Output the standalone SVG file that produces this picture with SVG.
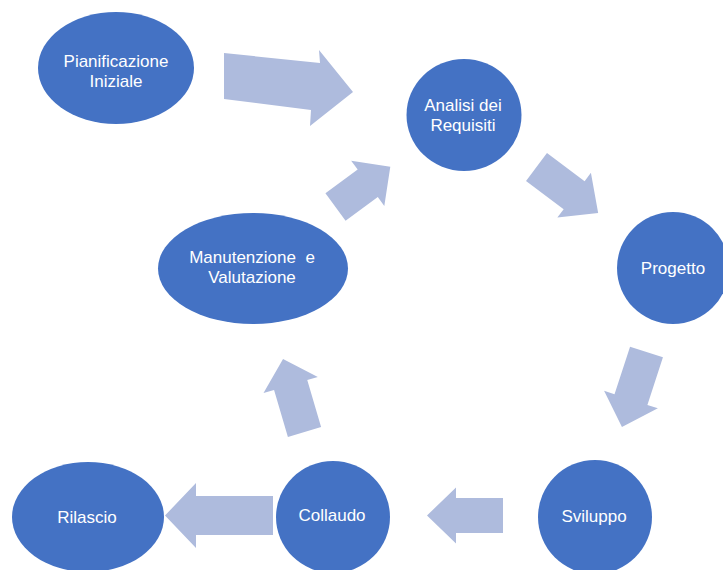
<svg xmlns="http://www.w3.org/2000/svg" width="723" height="570" viewBox="0 0 723 570">
<style>
.node{fill:#4472C4}
.lbl{fill:#ffffff;font-family:"Liberation Sans",Arial,sans-serif;font-size:17px;text-anchor:middle;dominant-baseline:central}
.arr{fill:#AEBBDD}
</style>
<rect width="723" height="570" fill="#ffffff"/>
<g id="connectors">
<polygon class="arr" points="224,53 320,63 319,50 353,92 310,126 311,110 224,99"/>
<polygon class="arr" transform="translate(536.5,167) rotate(36.8)" points="0,-17.5 47,-17.5 47,-28 77,0 47,28 47,17.5 0,17.5"/>
<polygon class="arr" transform="translate(646.5,352) rotate(108.1)" points="0,-17.3 50,-17.3 50,-28.3 79,0 50,28.3 50,17.3 0,17.3"/>
<polygon class="arr" transform="translate(503,515.5) rotate(180)" points="0,-17.5 47,-17.5 47,-28 76,0 47,28 47,17.5 0,17.5"/>
<polygon class="arr" transform="translate(273,515.5) rotate(180)" points="0,-19.5 77,-19.5 77,-32.5 108,0 77,32.5 77,19.5 0,19.5"/>
<polygon class="arr" transform="translate(304.5,432) rotate(-106.4)" points="0,-17.3 49,-17.3 49,-28.3 76,0 49,28.3 49,17.3 0,17.3"/>
<polygon class="arr" transform="translate(335.5,207) rotate(-36.3)" points="0,-17 40,-17 40,-28 68,0 40,28 40,17 0,17"/>
</g>
<g id="pianificazione">
<ellipse class="node" cx="116" cy="68" rx="78" ry="56"/>
<text class="lbl" x="116" y="61">Pianificazione</text>
<text class="lbl" x="116" y="81">Iniziale</text>
</g>
<g id="analisi">
<ellipse class="node" cx="464" cy="115" rx="57.5" ry="56"/>
<text class="lbl" x="463" y="105">Analisi dei</text>
<text class="lbl" x="463" y="125">Requisiti</text>
</g>
<g id="progetto">
<ellipse class="node" cx="673" cy="268" rx="56" ry="56"/>
<text class="lbl" x="673" y="268">Progetto</text>
</g>
<g id="sviluppo">
<ellipse class="node" cx="595" cy="517" rx="57" ry="57"/>
<text class="lbl" x="594" y="516">Sviluppo</text>
</g>
<g id="collaudo">
<ellipse class="node" cx="333" cy="517" rx="57" ry="56"/>
<text class="lbl" x="332" y="515">Collaudo</text>
</g>
<g id="rilascio">
<ellipse class="node" cx="88" cy="517" rx="76" ry="55"/>
<text class="lbl" x="87" y="517">Rilascio</text>
</g>
<g id="manutenzione">
<ellipse class="node" cx="253" cy="268.5" rx="95" ry="55.5"/>
<text class="lbl" x="252" y="257.5" xml:space="preserve">Manutenzione  e</text>
<text class="lbl" x="252" y="277">Valutazione</text>
</g>
</svg>
